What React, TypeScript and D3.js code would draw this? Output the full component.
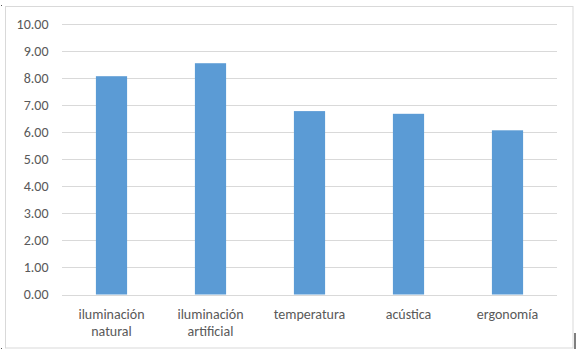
import React, { useEffect, useRef } from 'react'
import * as d3 from 'd3'

const categories = [['iluminación', 'natural'], ['iluminación', 'artificial'], ['temperatura'], ['acústica'], ['ergonomía']]
const values = [8.07, 8.55, 6.78, 6.68, 6.07]
const yTicks = [0, 1, 2, 3, 4, 5, 6, 7, 8, 9, 10]

const App = () => {
  const svgRef = useRef(null)

  useEffect(() => {
    const width = 584
    const height = 353
    const plot = { left: 62, right: 557, top: 24, bottom: 294.5 }
    const font = 'Carlito, Calibri, Lato, sans-serif'

    const svg = d3.select(svgRef.current)
    svg.selectAll('*').remove()
    svg.attr('width', width).attr('height', height)

    svg.append('rect').attr('width', width).attr('height', height).attr('fill', '#fff')

    // chart border
    svg
      .append('rect')
      .attr('x', 5.5)
      .attr('y', 6.5)
      .attr('width', 567.5)
      .attr('height', 341.5)
      .attr('fill', 'none')
      .attr('stroke', '#d9d9d9')

    // little artifacts from the screenshot
    svg.append('rect').attr('x', 1).attr('y', 5).attr('width', 1).attr('height', 1).attr('fill', '#555')
    svg.append('rect').attr('x', 1).attr('y', 348).attr('width', 1).attr('height', 1).attr('fill', '#555')
    svg.append('rect').attr('x', 574.5).attr('y', 333).attr('width', 1).attr('height', 16).attr('fill', '#000')

    const x = d3
      .scaleBand()
      .domain(categories.map((c) => c.join(' ')))
      .range([plot.left, plot.right])
      .paddingInner(0.685)
      .paddingOuter(0.3425)

    const y = d3.scaleLinear().domain([0, 10]).range([plot.bottom, plot.top])

    // gridlines
    svg
      .append('g')
      .selectAll('line')
      .data(yTicks)
      .enter()
      .append('line')
      .attr('x1', plot.left)
      .attr('x2', plot.right)
      .attr('y1', (d) => Math.round(y(d)) + 0.5)
      .attr('y2', (d) => Math.round(y(d)) + 0.5)
      .attr('stroke', '#d9d9d9')
      .attr('stroke-width', 1.2)

    // tick labels
    svg
      .append('g')
      .selectAll('text')
      .data(yTicks)
      .enter()
      .append('text')
      .attr('x', 48.5)
      .attr('y', (d) => y(d))
      .attr('dy', '0.35em')
      .attr('text-anchor', 'end')
      .style('font-family', font)
      .style('font-size', '14px')
      .attr('fill', '#595959')
      .text((d) => d3.format('.2f')(d))

    // bars
    svg
      .append('g')
      .selectAll('rect')
      .data(values)
      .enter()
      .append('rect')
      .attr('x', (d, i) => x(categories[i].join(' ')))
      .attr('y', (d) => y(d))
      .attr('width', x.bandwidth())
      .attr('height', (d) => y(0) - y(d))
      .attr('fill', '#5b9bd5')

    // category labels
    const labels = svg
      .append('g')
      .selectAll('text')
      .data(categories)
      .enter()
      .append('text')
      .attr('x', (d) => x(d.join(' ')) + x.bandwidth() / 2)
      .attr('y', 319)
      .attr('text-anchor', 'middle')
      .style('font-family', font)
      .style('font-size', '14px')
      .attr('fill', '#595959')

    labels
      .selectAll('tspan')
      .data((d) => d)
      .enter()
      .append('tspan')
      .attr('x', function () {
        return d3.select(this.parentNode).attr('x')
      })
      .attr('dy', (d, i) => (i === 0 ? 0 : 16.7))
      .text((d) => d)
  }, [])

  return <svg ref={svgRef} style={{ position: 'absolute', left: 0, top: 0 }}></svg>
}

export default App
